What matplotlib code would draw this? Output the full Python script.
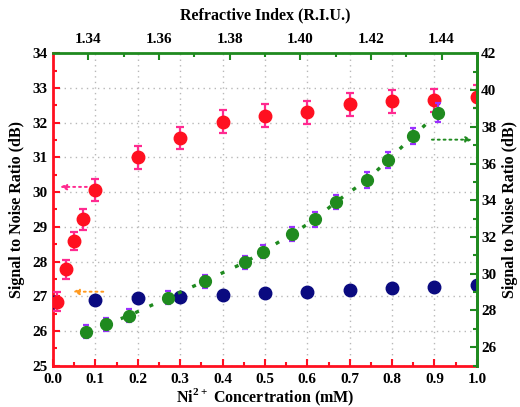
import matplotlib
matplotlib.use("Agg")
import matplotlib.pyplot as plt
from matplotlib.ticker import MultipleLocator, FixedLocator

plt.rcParams['font.family'] = ['Liberation Serif', 'DejaVu Serif']
plt.rcParams['font.weight'] = 'bold'
plt.rcParams['mathtext.fontset'] = 'custom'
plt.rcParams['mathtext.rm'] = 'Liberation Serif:bold'
plt.rcParams['mathtext.bf'] = 'Liberation Serif:bold'

# Red series: Ni2+ concentration vs SNR (left axis)
red_conc = [0.01, 0.03, 0.05, 0.07, 0.1, 0.2, 0.3, 0.4, 0.5, 0.6, 0.7, 0.8, 0.9, 1.0]
red_snr = [26.84, 27.78, 28.59, 29.22, 30.05, 31.0, 31.55, 32.03, 32.2, 32.3, 32.53, 32.62, 32.65, 32.75]
red_err = [0.27, 0.27, 0.27, 0.3, 0.32, 0.32, 0.32, 0.33, 0.33, 0.33, 0.33, 0.33, 0.33, 0.33]

# Blue series: concentration vs SNR (left axis)
blue_conc = [0.0, 0.1, 0.2, 0.3, 0.4, 0.5, 0.6, 0.7, 0.8, 0.9, 1.0]
blue_snr = [26.84, 26.89, 26.95, 26.98, 27.03, 27.08, 27.13, 27.18, 27.23, 27.27, 27.31]

# Green series: refractive index vs SNR (top / right axes)
green_ri = [1.3393, 1.3450, 1.3515, 1.3626, 1.3730, 1.3843, 1.3894, 1.3976,
            1.4042, 1.4100, 1.4188, 1.4249, 1.4320, 1.4391]
green_snr = [26.85, 27.26, 27.72, 28.7, 29.6, 30.62, 31.2, 32.16,
             32.96, 33.9, 35.1, 36.19, 37.5, 38.77]
green_err = [0.35, 0.35, 0.35, 0.35, 0.35, 0.35, 0.35, 0.4,
             0.4, 0.4, 0.45, 0.45, 0.45, 0.5]

RED = '#ff1020'
PINK = '#ff2a90'
NAVY = '#0a0a80'
GREEN = '#1f8a1f'
PURPLE = '#9b30ff'
ORANGE = '#ff9a20'

fig = plt.figure(figsize=(5.2, 4.07), dpi=100)
ax = fig.add_axes([0.102, 0.1017, 0.815, 0.7673])
ax_r = ax.twinx()
ax_g = ax_r.twiny()

ax.set_xlim(0.0, 1.0)
ax.set_ylim(25, 34)
ax_r.set_ylim(25, 42)
ax_g.set_xlim(1.33, 1.45)

ax.grid(True, which='major', linestyle=(0, (1, 3)), color='#b8b8b8', linewidth=1.0)
ax.set_axisbelow(True)

ax.errorbar(red_conc, red_snr, yerr=red_err, fmt='o', color=RED, ecolor=PINK,
            markersize=9, elinewidth=1.6, capsize=3, capthick=1.6, zorder=4)
ax.plot(blue_conc, blue_snr, 'o', color=NAVY, markersize=9, zorder=4)

ax_g.plot(green_ri[1:], green_snr[1:], linestyle=(0, (1.2, 3.5)), color=GREEN,
          linewidth=2.4, zorder=3)
ax_g.errorbar(green_ri, green_snr, yerr=green_err, fmt='o', color=GREEN, ecolor=PURPLE,
              markersize=8.5, elinewidth=1.6, capsize=2.5, capthick=1.6, zorder=4)

# arrows
ax.annotate('', xy=(0.01, 30.15), xytext=(0.1, 30.15),
            arrowprops=dict(arrowstyle='-|>', color=PINK, linestyle=(0, (1, 2)), lw=1.4,
                            mutation_scale=9))
ax.annotate('', xy=(0.04, 27.13), xytext=(0.125, 27.13),
            arrowprops=dict(arrowstyle='-|>', color=ORANGE, linestyle=(0, (1, 2)), lw=1.4,
                            mutation_scale=9))
ax_g.annotate('', xy=(1.4495, 37.3), xytext=(1.4365, 37.3),
              arrowprops=dict(arrowstyle='-|>', color=GREEN, linestyle=(0, (1, 2)), lw=1.4,
                              mutation_scale=9))

# spines
ax.spines['left'].set_color(RED)
ax.spines['bottom'].set_color(RED)
ax.spines['top'].set_visible(False)
ax.spines['right'].set_visible(False)
ax_r.spines['left'].set_visible(False)
ax_r.spines['bottom'].set_visible(False)
ax_r.spines['top'].set_visible(False)
ax_r.spines['right'].set_color(GREEN)
ax_g.spines['left'].set_visible(False)
ax_g.spines['bottom'].set_visible(False)
ax_g.spines['top'].set_color(GREEN)
ax_g.spines['right'].set_color(GREEN)
for a in (ax, ax_r, ax_g):
    for s in a.spines.values():
        s.set_linewidth(2.0)

# ticks
ax.xaxis.set_major_locator(MultipleLocator(0.1))
ax.xaxis.set_minor_locator(MultipleLocator(0.05))
ax.yaxis.set_major_locator(MultipleLocator(1))
ax.yaxis.set_minor_locator(MultipleLocator(0.5))
ax.tick_params(axis='both', which='both', direction='in', color=RED, width=1.5,
               labelsize=11)
ax.tick_params(axis='x', pad=5)
ax.tick_params(axis='y', pad=4)
ax.tick_params(which='major', length=5)
ax.tick_params(which='minor', length=3)
ax.xaxis.set_major_formatter(matplotlib.ticker.FormatStrFormatter('%.1f'))

ax_r.yaxis.set_major_locator(MultipleLocator(2))
ax_r.yaxis.set_minor_locator(MultipleLocator(1))
ax_r.tick_params(axis='y', which='both', direction='in', color=GREEN, width=1.5,
                 labelsize=11, pad=3)
ax_r.tick_params(which='major', length=5)
ax_r.tick_params(which='minor', length=3)

ax_g.xaxis.set_major_locator(FixedLocator([1.34, 1.36, 1.38, 1.40, 1.42, 1.44]))
ax_g.xaxis.set_minor_locator(FixedLocator([1.35, 1.37, 1.39, 1.41, 1.43]))
ax_g.xaxis.set_major_formatter(matplotlib.ticker.FormatStrFormatter('%.2f'))
ax_g.tick_params(axis='x', which='both', direction='in', color=GREEN, width=1.5,
                 labelsize=11, pad=5)
ax_g.tick_params(which='major', length=5)
ax_g.tick_params(which='minor', length=3)

for a in (ax, ax_r, ax_g):
    for lab in a.get_xticklabels() + a.get_yticklabels():
        lab.set_fontweight('bold')

ax.set_xlabel('Ni$^{2+}$ Concertration (mM)', fontsize=11.5, fontweight='bold', labelpad=1)
ax.set_ylabel('Signal to Noise Ratio (dB)', fontsize=11.5, fontweight='bold', labelpad=5)
ax_r.set_ylabel('Signal to Noise Ratio (dB)', fontsize=11.5, fontweight='bold', labelpad=4)
ax_g.set_xlabel('Refractive Index (R.I.U.)', fontsize=11.5, fontweight='bold', labelpad=10)

fig.savefig('out.png', dpi=100)
